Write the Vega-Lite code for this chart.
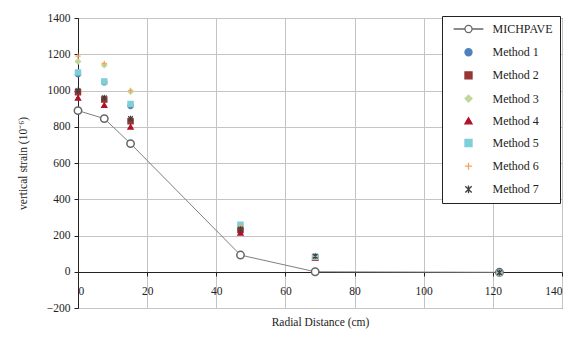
{
  "$schema": "https://vega.github.io/schema/vega-lite/v6.json",
  "autosize": {"type": "none"},
  "padding": {"left": 78, "top": 18, "right": 11, "bottom": 33},
  "width": 484,
  "height": 290,
  "background": "white",
  "config": {
    "font": "Liberation Serif",
    "view": {"stroke": "#222", "strokeWidth": 1},
    "axis": {
      "labelFont": "Liberation Serif",
      "titleFont": "Liberation Serif",
      "labelFontSize": 11.5,
      "titleFontSize": 11.5,
      "titleFontWeight": "normal",
      "labelColor": "#222",
      "titleColor": "#222",
      "tickColor": "#222",
      "domainColor": "#222",
      "tickSize": 4
    },
    "legend": {
      "labelFont": "Liberation Serif",
      "labelFontSize": 12,
      "labelColor": "#222"
    }
  },
  "data": {
    "values": [
      {"series": "MICHPAVE", "x": 0, "y": 889},
      {"series": "MICHPAVE", "x": 7.6, "y": 845},
      {"series": "MICHPAVE", "x": 15.2, "y": 707},
      {"series": "MICHPAVE", "x": 47, "y": 92},
      {"series": "MICHPAVE", "x": 68.6, "y": 0},
      {"series": "MICHPAVE", "x": 121.9, "y": -3},
      {"series": "Method 1", "x": 0, "y": 1090},
      {"series": "Method 1", "x": 7.6, "y": 1045},
      {"series": "Method 1", "x": 15.2, "y": 915},
      {"series": "Method 1", "x": 47, "y": 240},
      {"series": "Method 1", "x": 68.6, "y": 80},
      {"series": "Method 1", "x": 121.9, "y": -5},
      {"series": "Method 2", "x": 0, "y": 990},
      {"series": "Method 2", "x": 7.6, "y": 950},
      {"series": "Method 2", "x": 15.2, "y": 830},
      {"series": "Method 2", "x": 47, "y": 230},
      {"series": "Method 2", "x": 68.6, "y": 78},
      {"series": "Method 2", "x": 121.9, "y": -5},
      {"series": "Method 3", "x": 0, "y": 1160},
      {"series": "Method 3", "x": 7.6, "y": 1140},
      {"series": "Method 3", "x": 15.2, "y": 995},
      {"series": "Method 3", "x": 47, "y": 255},
      {"series": "Method 3", "x": 68.6, "y": 82},
      {"series": "Method 3", "x": 121.9, "y": -5},
      {"series": "Method 4", "x": 0, "y": 960},
      {"series": "Method 4", "x": 7.6, "y": 920},
      {"series": "Method 4", "x": 15.2, "y": 800},
      {"series": "Method 4", "x": 47, "y": 215},
      {"series": "Method 4", "x": 68.6, "y": 76},
      {"series": "Method 4", "x": 121.9, "y": -5},
      {"series": "Method 5", "x": 0, "y": 1100},
      {"series": "Method 5", "x": 7.6, "y": 1050},
      {"series": "Method 5", "x": 15.2, "y": 925},
      {"series": "Method 5", "x": 47, "y": 260},
      {"series": "Method 5", "x": 68.6, "y": 82},
      {"series": "Method 5", "x": 121.9, "y": -5},
      {"series": "Method 6", "x": 0, "y": 1190},
      {"series": "Method 6", "x": 7.6, "y": 1150},
      {"series": "Method 6", "x": 15.2, "y": 1000},
      {"series": "Method 6", "x": 47, "y": 250},
      {"series": "Method 6", "x": 68.6, "y": 80},
      {"series": "Method 6", "x": 121.9, "y": -5},
      {"series": "Method 7", "x": 0, "y": 1000},
      {"series": "Method 7", "x": 7.6, "y": 960},
      {"series": "Method 7", "x": 15.2, "y": 845},
      {"series": "Method 7", "x": 47, "y": 235},
      {"series": "Method 7", "x": 68.6, "y": 86},
      {"series": "Method 7", "x": 121.9, "y": -5}
    ]
  },
  "encoding": {
    "x": {
      "field": "x", "type": "quantitative",
      "scale": {"domain": [0, 140], "nice": false, "zero": false},
      "axis": {
        "title": "Radial Distance (cm)",
        "values": [0, 20, 40, 60, 80, 100, 120, 140],
        "format": "d",
        "offset": -36,
        "labelPadding": 9,
        "titlePadding": 20,
        "grid": true,
        "gridColor": "#c4c4c4",
        "gridOpacity": 1,
        "gridWidth": 1
      }
    },
    "y": {
      "field": "y", "type": "quantitative",
      "scale": {"domain": [-200, 1400], "nice": false, "zero": false},
      "axis": {
        "title": "vertical strain (10⁻⁶)",
        "values": [-200, 0, 200, 400, 600, 800, 1000, 1200, 1400],
        "format": "d",
        "labelPadding": 4,
        "titlePadding": 18,
        "grid": true,
        "gridColor": "#c4c4c4",
        "gridOpacity": 1,
        "gridWidth": 1
      }
    }
  },
  "layer": [
    {
      "transform": [{"filter": "datum.series === 'MICHPAVE'"}],
      "mark": {"type": "line", "color": "#7f7f7f", "strokeWidth": 1}
    },
    {
      "transform": [{"filter": "datum.series === 'MICHPAVE'"}],
      "mark": {"type": "point", "shape": "circle", "filled": false, "fill": "white", "stroke": "#666666", "strokeWidth": 1.5, "size": 55, "opacity": 1}
    },
    {
      "transform": [{"filter": "datum.series !== 'MICHPAVE'"}],
      "mark": {"type": "point", "filled": true, "size": 28, "strokeWidth": 1.2, "opacity": 1},
      "encoding": {
        "shape": {
          "field": "series", "type": "nominal",
          "scale": {
            "domain": ["MICHPAVE", "Method 1", "Method 2", "Method 3", "Method 4", "Method 5", "Method 6", "Method 7"],
            "range": [
              "M-4.2,0L-1,0M1,0L4.2,0M-1,0A1,1,0,1,0,1,0A1,1,0,1,0,-1,0",
              "circle", "square", "diamond", "triangle-up", "square",
              "M-1,0L1,0M0,-1L0,1",
              "M-0.9,-0.9L0.9,0.9M-0.9,0.9L0.9,-0.9M0,-1.1L0,1.1"
            ]
          },
          "legend": {
            "title": null, "orient": "none", "legendX": 364, "legendY": -2,
            "fillColor": "white", "strokeColor": "#222", "padding": 7,
            "rowPadding": 9.2, "symbolSize": 50, "symbolOffset": 13.5, "labelOffset": 18,
            "symbolStrokeWidth": 1.3
          }
        },
        "fill": {
          "field": "series", "type": "nominal",
          "scale": {
            "domain": ["MICHPAVE", "Method 1", "Method 2", "Method 3", "Method 4", "Method 5", "Method 6", "Method 7"],
            "range": ["white", "#4F81BD", "#953735", "#C3D69B", "#B0102A", "#7FCFD8", "#F4A460", "#404040"]
          },
          "legend": {
            "title": null, "orient": "none", "legendX": 364, "legendY": -2,
            "fillColor": "white", "strokeColor": "#222", "padding": 7,
            "rowPadding": 9.2, "symbolSize": 50, "symbolOffset": 13.5, "labelOffset": 18,
            "symbolStrokeWidth": 1.3
          }
        },
        "stroke": {
          "field": "series", "type": "nominal",
          "scale": {
            "domain": ["MICHPAVE", "Method 1", "Method 2", "Method 3", "Method 4", "Method 5", "Method 6", "Method 7"],
            "range": ["#666666", "#4F81BD", "#953735", "#C3D69B", "#B0102A", "#7FCFD8", "#F4A460", "#404040"]
          },
          "legend": {
            "title": null, "orient": "none", "legendX": 364, "legendY": -2,
            "fillColor": "white", "strokeColor": "#222", "padding": 7,
            "rowPadding": 9.2, "symbolSize": 50, "symbolOffset": 13.5, "labelOffset": 18,
            "symbolStrokeWidth": 1.3
          }
        }
      }
    }
  ]
}
